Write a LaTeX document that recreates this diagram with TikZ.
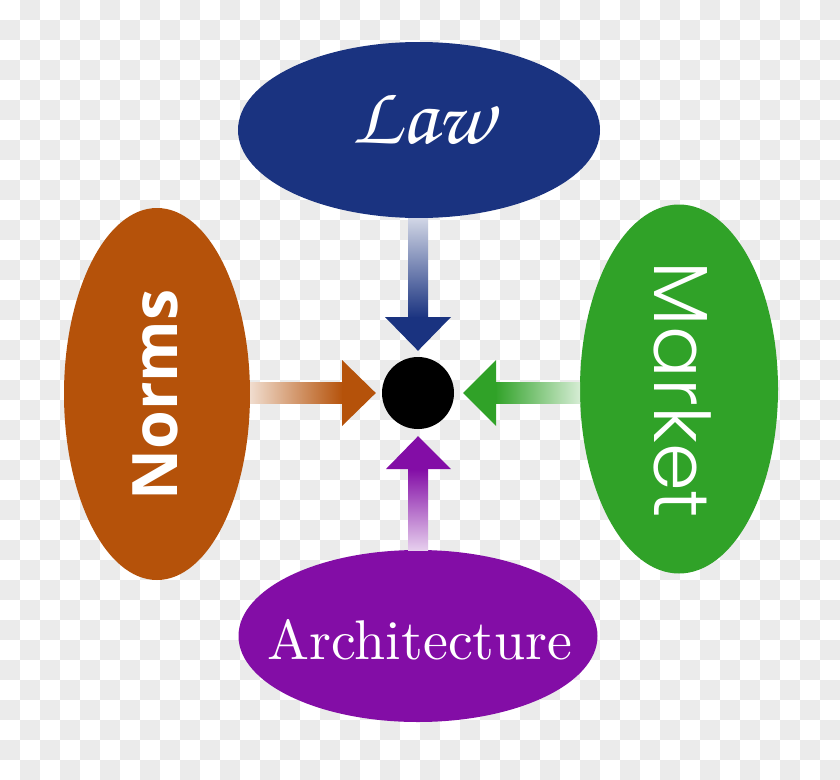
\documentclass[tikz,border=0pt]{standalone}
\usepackage[T1]{fontenc}
\usepackage{fontspec}
\usepackage{graphicx}
\newfontfamily\normsfont{Open Sans}
\newfontfamily\marketfont{Poppins}[UprightFont=* Light]
\newcommand{\chorus}{\fontencoding{T1}\fontfamily{pzc}\fontseries{mb}\fontshape{it}\selectfont}
\usetikzlibrary{shapes.geometric,calc}
\definecolor{lawblue}{RGB}{26,51,128}
\definecolor{normsorange}{RGB}{181,82,10}
\definecolor{marketgreen}{RGB}{48,162,40}
\definecolor{archpurple}{RGB}{131,13,166}
\definecolor{chk}{RGB}{235,235,235}
\tikzset{
  oval/.style={ellipse, inner sep=0pt, draw=none},
  lbl/.style={text=white, inner sep=0pt},
}
\begin{document}
\begin{tikzpicture}[x=1pt,y=-1pt]
\useasboundingbox (0,0) rectangle (840,779);
\begin{scope}
\clip (0,0) rectangle (840,779);
\fill[white] (0,0) rectangle (840,779);
\foreach \i in {0,...,41}{\foreach \j in {0,...,38}{
  \pgfmathtruncatemacro\p{mod(\i+\j,2)}
  \ifnum\p=1 \fill[chk] ({20*\i},{20*\j}) rectangle ++(20,20); \fi
}}
\end{scope}
% ovals
\node[oval, fill=lawblue, minimum width=362pt, minimum height=176pt] (law) at (419,130) {};
\node[oval, fill=normsorange, minimum width=186pt, minimum height=372pt] (norms) at (157,394) {};
\node[oval, fill=marketgreen, minimum width=198pt, minimum height=369pt] (market) at (679,389) {};
\node[oval, fill=archpurple, minimum width=359pt, minimum height=172pt] (arch) at (418,636) {};
\node[circle, fill=black, minimum size=72pt, inner sep=0pt] (dot) at (418,393) {};
% labels
\node[lbl] at (423,118) {\resizebox{140pt}{!}{\chorus Law}};
\node[lbl, rotate=90] at (155,395) {\resizebox{211pt}{!}{\normsfont\bfseries Norms}};
\node[lbl, rotate=-90] at (683,390) {\resizebox{256pt}{!}{\marketfont Market}};
\node[lbl] at (420,640) {\resizebox{305pt}{!}{Architecture}};
% arrows
\shade[top color=lawblue!20, bottom color=lawblue] (408,218) rectangle (428,318);
\fill[lawblue] (385,317) -- (451,317) -- ($(dot.north)+(0,-6)$) -- cycle;
\shade[bottom color=archpurple!20, top color=archpurple] (408,469) rectangle (428,550);
\fill[archpurple] (386,469) -- (451,469) -- ($(dot.south)+(0,7)$) -- cycle;
\shade[left color=normsorange!20, right color=normsorange] (250,382) rectangle (343,403);
\fill[normsorange] (342,360) -- (342,426) -- ($(dot.west)+(-6,0)$) -- cycle;
\shade[right color=marketgreen!20, left color=marketgreen] (495,382) rectangle (580,403);
\fill[marketgreen] (496,360) -- (496,426) -- ($(dot.east)+(9,0)$) -- cycle;
\end{tikzpicture}
\end{document}
